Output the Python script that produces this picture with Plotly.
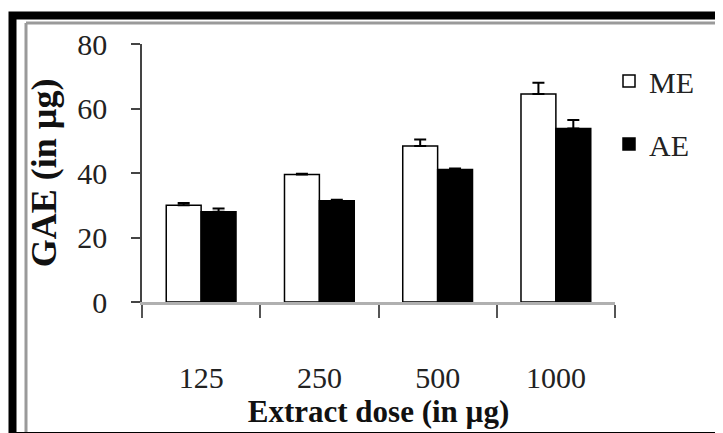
import plotly.graph_objects as go

doses = ["125", "250", "500", "1000"]
me_values = [30.0, 39.5, 48.4, 64.5]
me_errors = [0.7, 0.3, 2.0, 3.5]
ae_values = [28.0, 31.4, 41.1, 53.8]
ae_errors = [1.0, 0.3, 0.3, 2.6]

FONT = "Liberation Serif, Times New Roman, serif"

fig = go.Figure()
fig.add_trace(go.Bar(
    name="ME", x=doses, y=me_values, legendgroup="me",
    marker=dict(color="white", line=dict(color="black", width=1.5)),
    error_y=dict(type="data", array=me_errors, arrayminus=[0]*4, symmetric=False,
                 color="black", thickness=2, width=6),
))
fig.add_trace(go.Bar(
    name="AE", x=doses, y=ae_values, legendgroup="ae",
    marker=dict(color="black", line=dict(color="black", width=1.5)),
    error_y=dict(type="data", array=ae_errors, arrayminus=[0]*4, symmetric=False,
                 color="black", thickness=2, width=6),
))

# page body has an 8px offset; plot area on screen: x 142..615, y 44..302
OFF = 8
def px(x):
    return (x - 142) / 473.0

def py(y):
    return (302 - y) / 258.0

shapes = [
    dict(type="rect", xref="paper", yref="paper", x0=px(12.5), x1=px(770), y0=py(15.5), y1=py(436),
         line=dict(color="black", width=8), fillcolor="rgba(0,0,0,0)", layer="above"),
    dict(type="line", xref="paper", yref="paper", x0=px(26), x1=px(26), y0=py(23), y1=py(432),
         line=dict(color="#9a9a9a", width=3)),
    dict(type="line", xref="paper", yref="paper", x0=px(26), x1=px(760), y0=py(23), y1=py(23),
         line=dict(color="#9a9a9a", width=3)),
]

fig.update_layout(
    width=723, height=433,
    margin=dict(l=142 - OFF, r=723 - (142 - OFF) - 473, t=44 - OFF, b=433 - (44 - OFF) - 258,
                autoexpand=False),
    paper_bgcolor="white", plot_bgcolor="white",
    barmode="group", bargap=0.41, bargroupgap=0,
    font=dict(family=FONT, color="#222", size=29),
    showlegend=True,
    legend=dict(xref="container", yref="container", x=(609 - OFF) / 723, y=1 - (55 - OFF) / 433,
                xanchor="left", yanchor="top",
                font=dict(family=FONT, size=30, color="#222"),
                tracegroupgap=21, itemwidth=30, bgcolor="rgba(0,0,0,0)"),
    shapes=shapes,
    xaxis=dict(
        type="category", showgrid=False, zeroline=False,
        showline=True, linecolor="#b0b0b0", linewidth=3,
        ticks="outside", tickson="boundaries", ticklen=13, tickcolor="#555", tickwidth=1.5,
        ticklabelstandoff=47,
        tickfont=dict(family=FONT, size=30, color="#222"),
        title=dict(text="<b>Extract dose (in µg)</b>", font=dict(family=FONT, size=31, color="#111"), standoff=4),
    ),
    yaxis=dict(
        range=[0, 80], tickvals=[0, 20, 40, 60, 80], showgrid=False, zeroline=False,
        showline=True, linecolor="#444", linewidth=1.5,
        ticks="outside", ticklen=9, tickcolor="#444", tickwidth=1.5,
        ticklabelstandoff=18,
        tickfont=dict(family=FONT, size=30, color="#222"),
        title=dict(text="<b>GAE (in µg)</b>", font=dict(family=FONT, size=36, color="#111"), standoff=10),
    ),
)

fig.write_html("out.html")
